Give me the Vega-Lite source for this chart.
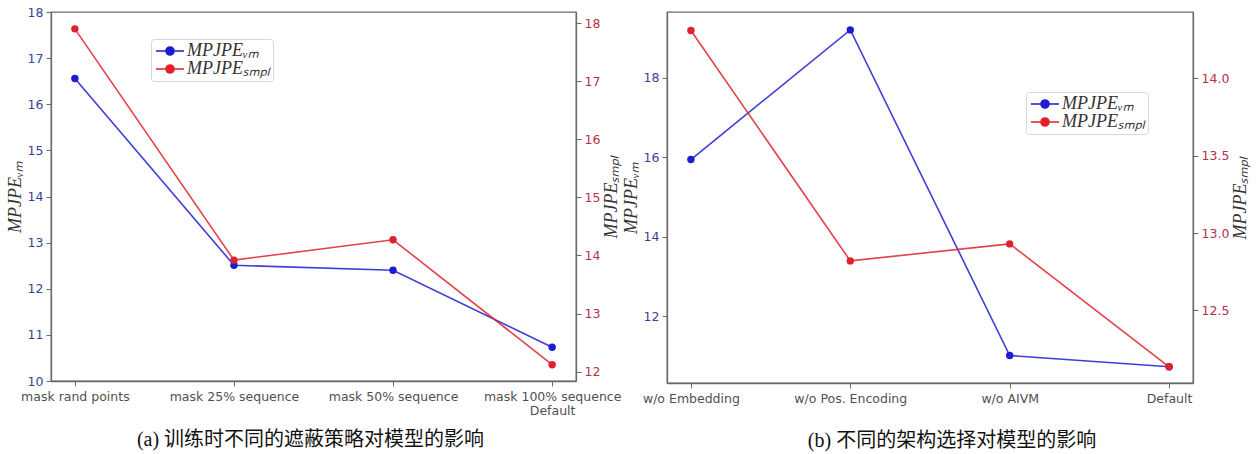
{
  "$schema": "https://vega.github.io/schema/vega-lite/v6.json",
  "background": "white",
  "padding": {"left": 5, "top": 5, "right": 5, "bottom": 0},
  "datasets": {
    "rows": [
      {"panel": "a", "cat": "mask rand points", "series": "VM", "value": 16.56},
      {"panel": "a", "cat": "mask 25% sequence", "series": "VM", "value": 12.51},
      {"panel": "a", "cat": "mask 50% sequence", "series": "VM", "value": 12.40},
      {"panel": "a", "cat": "mask 100% sequence", "series": "VM", "value": 10.73},
      {"panel": "a", "cat": "mask rand points", "series": "SMPL", "value": 17.90},
      {"panel": "a", "cat": "mask 25% sequence", "series": "SMPL", "value": 13.92},
      {"panel": "a", "cat": "mask 50% sequence", "series": "SMPL", "value": 14.27},
      {"panel": "a", "cat": "mask 100% sequence", "series": "SMPL", "value": 12.12},
      {"panel": "b", "cat": "w/o Embedding", "series": "VM", "value": 15.94},
      {"panel": "b", "cat": "w/o Pos. Encoding", "series": "VM", "value": 19.20},
      {"panel": "b", "cat": "w/o AIVM", "series": "VM", "value": 11.01},
      {"panel": "b", "cat": "Default", "series": "VM", "value": 10.73},
      {"panel": "b", "cat": "w/o Embedding", "series": "SMPL", "value": 14.31},
      {"panel": "b", "cat": "w/o Pos. Encoding", "series": "SMPL", "value": 12.82},
      {"panel": "b", "cat": "w/o AIVM", "series": "SMPL", "value": 12.93},
      {"panel": "b", "cat": "Default", "series": "SMPL", "value": 12.135}
    ]
  },
  "data": {"name": "rows"},
  "spacing": 91,
  "bounds": "flush",
  "resolve": {"scale": {"color": "independent"}, "legend": {"color": "independent"}},
  "hconcat": [
    {
      "width": 525,
      "height": 369,
      "transform": [{"filter": "datum.panel == 'a'"}],
      "title": {"text": "(a)  训练时不同的遮蔽策略对模型的影响", "orient": "bottom", "anchor": "middle", "offset": 13, "dx": -3},
      "encoding": {
        "x": {"field": "cat", "type": "ordinal", "sort": null, "title": null,
          "scale": {"type": "point", "padding": 0.15},
          "axis": {"labelExpr": "datum.label == 'mask 100% sequence' ? ['mask 100% sequence', 'Default'] : datum.label"}},
        "color": {"field": "series", "type": "nominal",
          "scale": {"domain": ["VM", "SMPL"], "range": ["#1c1cd0", "#e0202c"]},
          "legend": {"orient": "none", "legendX": 100, "legendY": 27,
            "labelExpr": "datum.label == 'VM' ? 'MPJPEᵥₘ' : 'MPJPEₛₘₚₗ'"}}
      },
      "layer": [
        {
          "transform": [{"filter": "datum.series == 'VM'"}],
          "encoding": {"y": {"field": "value", "type": "quantitative",
            "scale": {"domain": [10, 18], "nice": false, "zero": false},
            "axis": {"orient": "left", "values": [10, 11, 12, 13, 14, 15, 16, 17, 18], "title": "MPJPEᵥₘ", "labelColor": "#40409a"}}},
          "layer": [
            {"mark": {"type": "line", "strokeWidth": 1.6, "strokeOpacity": 0.85}},
            {"mark": {"type": "point", "filled": true, "size": 55, "opacity": 1}}
          ]
        },
        {
          "transform": [{"filter": "datum.series == 'SMPL'"}],
          "encoding": {"y": {"field": "value", "type": "quantitative",
            "scale": {"domain": [11.84, 18.19], "nice": false, "zero": false},
            "axis": {"orient": "right", "values": [12, 13, 14, 15, 16, 17, 18], "title": "MPJPEₛₘₚₗ", "titleAngle": 270, "titleBaseline": "top", "labelColor": "#b8304a"}}},
          "layer": [
            {"mark": {"type": "line", "strokeWidth": 1.6, "strokeOpacity": 0.85}},
            {"mark": {"type": "point", "filled": true, "size": 55, "opacity": 1}}
          ]
        }
      ],
      "resolve": {"scale": {"y": "independent"}}
    },
    {
      "width": 526,
      "height": 371,
      "transform": [{"filter": "datum.panel == 'b'"}],
      "title": {"text": "(b)  不同的架构选择对模型的影响", "orient": "bottom", "anchor": "middle", "offset": 26, "dx": 22},
      "encoding": {
        "x": {"field": "cat", "type": "ordinal", "sort": null, "title": null,
          "scale": {"type": "point", "padding": 0.15}},
        "color": {"field": "series", "type": "nominal",
          "scale": {"domain": ["VM", "SMPL"], "range": ["#1c1cd0", "#e0202c"]},
          "legend": {"orient": "none", "legendX": 359, "legendY": 80,
            "labelExpr": "datum.label == 'VM' ? 'MPJPEᵥₘ' : 'MPJPEₛₘₚₗ'"}}
      },
      "layer": [
        {
          "transform": [{"filter": "datum.series == 'VM'"}],
          "encoding": {"y": {"field": "value", "type": "quantitative",
            "scale": {"domain": [10.32, 19.65], "nice": false, "zero": false},
            "axis": {"orient": "left", "values": [12, 14, 16, 18], "title": "MPJPEᵥₘ", "labelColor": "#40409a"}}},
          "layer": [
            {"mark": {"type": "line", "strokeWidth": 1.6, "strokeOpacity": 0.85}},
            {"mark": {"type": "point", "filled": true, "size": 55, "opacity": 1}}
          ]
        },
        {
          "transform": [{"filter": "datum.series == 'SMPL'"}],
          "encoding": {"y": {"field": "value", "type": "quantitative",
            "scale": {"domain": [12.03, 14.43], "nice": false, "zero": false},
            "axis": {"orient": "right", "values": [12.5, 13.0, 13.5, 14.0], "format": ".1f", "title": "MPJPEₛₘₚₗ", "titleAngle": 270, "titleBaseline": "top", "labelColor": "#b8304a"}}},
          "layer": [
            {"mark": {"type": "line", "strokeWidth": 1.6, "strokeOpacity": 0.85}},
            {"mark": {"type": "point", "filled": true, "size": 55, "opacity": 1}}
          ]
        }
      ],
      "resolve": {"scale": {"y": "independent"}}
    }
  ],
  "config": {
    "view": {"stroke": "#6a6a6a", "strokeWidth": 1.3},
    "axis": {
      "grid": false,
      "domainColor": "#6a6a6a",
      "domainWidth": 1.3,
      "tickColor": "#6a6a6a",
      "tickSize": 5,
      "labelFont": "DejaVu Sans",
      "labelFontSize": 12.5,
      "labelPadding": 3,
      "titleFont": "Liberation Serif",
      "titleFontStyle": "italic",
      "titleFontWeight": "normal",
      "titleFontSize": 18,
      "titleColor": "#333333",
      "titlePadding": 3
    },
    "axisX": {"labelAngle": 0, "labelColor": "#505050", "labelPadding": 4, "labelLineHeight": 14},
    "legend": {
      "title": null,
      "labelFont": "Liberation Serif",
      "labelFontStyle": "italic",
      "labelFontSize": 18,
      "labelColor": "#333333",
      "labelOffset": 15,
      "symbolType": "M-1,0L3,0M1.57,0A0.57,0.57,0,1,1,0.43,0A0.57,0.57,0,1,1,1.57,0Z",
      "symbolSize": 196,
      "symbolStrokeWidth": 1.6,
      "rowPadding": -3,
      "padding": 3,
      "fillColor": "white",
      "strokeColor": "#d8d8d8",
      "cornerRadius": 3
    },
    "title": {
      "font": "Liberation Serif, Noto Sans CJK SC",
      "fontSize": 20,
      "fontWeight": "normal",
      "color": "#111111"
    }
  }
}
